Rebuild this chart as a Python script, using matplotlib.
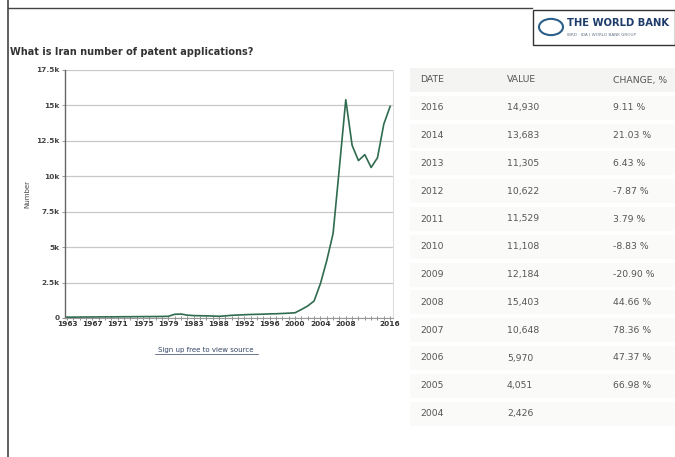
import matplotlib
matplotlib.use("Agg")
import matplotlib.pyplot as plt
from matplotlib.patches import Rectangle, Circle
from matplotlib.lines import Line2D

# ---------------- data ----------------
years = [1963, 1964, 1965, 1966, 1967, 1968, 1969, 1970, 1971, 1972, 1973, 1974,
         1975, 1976, 1977, 1978, 1979, 1980, 1981, 1982, 1983, 1985, 1986, 1987,
         1988, 1989, 1990, 1991, 1992, 1993, 1994, 1995, 1996, 1997, 1998, 1999,
         2000, 2001, 2002, 2003, 2004, 2005, 2006, 2007, 2008, 2009, 2010, 2011,
         2012, 2013, 2014, 2016]
values = [60, 60, 65, 70, 70, 75, 80, 80, 85, 90, 90, 95,
          100, 100, 105, 110, 120, 260, 280, 200, 170, 160, 150, 140,
          120, 150, 190, 210, 230, 250, 260, 270, 290, 300, 320, 340,
          370, 600, 850, 1200, 2426, 4051, 5970, 10648, 15403, 12184, 11108, 11529,
          10622, 11305, 13683, 14930]
xtick_years = [1963, 1967, 1971, 1975, 1979, 1983, 1988, 1992, 1996, 2000, 2004, 2008, 2016]
ytick_vals = [0, 2500, 5000, 7500, 10000, 12500, 15000, 17500]
ytick_labels = ["0", "2.5k", "5k", "7.5k", "10k", "12.5k", "15k", "17.5k"]

table_dates = ["2016", "2014", "2013", "2012", "2011", "2010", "2009", "2008", "2007", "2006", "2005", "2004"]
table_values = ["14,930", "13,683", "11,305", "10,622", "11,529", "11,108", "12,184", "15,403",
                "10,648", "5,970", "4,051", "2,426"]
table_changes = ["9.11 %", "21.03 %", "6.43 %", "-7.87 %", "3.79 %", "-8.83 %", "-20.90 %",
                 "44.66 %", "78.36 %", "47.37 %", "66.98 %", ""]
table_headers = ["DATE", "VALUE", "CHANGE, %"]

title = "What is Iran number of patent applications?"

# ---------------- figure ----------------
W, H = 675, 457
fig = plt.figure(figsize=(W / 100, H / 100), dpi=100)
fig.patch.set_facecolor("white")

def fx(px):
    return px / W

def fy(py):
    return 1 - py / H

# frame lines
fig.add_artist(Line2D([fx(8), fx(8)], [0, fy(0)], color="#444444", lw=1.2))
fig.add_artist(Line2D([fx(8), fx(532)], [fy(8), fy(8)], color="#444444", lw=1.0))

# World Bank logo box
fig.add_artist(Rectangle((fx(533), fy(45)), fx(675) - fx(533), fy(10) - fy(45),
                         facecolor="white", edgecolor="#333333", lw=1.0))
fig.add_artist(Circle((fx(551), fy(27)), 12 / W, transform=fig.transFigure,
                      facecolor="white", edgecolor="#2b5f8a", lw=1.5))
fig.text(fx(567), fy(23), "THE WORLD BANK", fontsize=7.2, fontweight="bold",
         color="#1f3d6b", va="center", ha="left")
fig.text(fx(567), fy(35), "IBRD · IDA | WORLD BANK GROUP", fontsize=3, color="#667788",
         va="center", ha="left")

# title
fig.text(fx(10), fy(52), title, fontsize=7, fontweight="bold", color="#333333",
         va="center", ha="left")

# ---------------- chart ----------------
ax = fig.add_axes([fx(65), fy(318), fx(393) - fx(65), fy(70) - fy(318)])
xs = list(range(len(years)))
ax.plot(xs, values, color="#2f6b4f", lw=1.2)
ax.set_ylim(0, 17500)
ax.set_xlim(-0.3, len(years) - 1 + 0.45)
ax.set_yticks(ytick_vals)
ax.set_yticklabels(ytick_labels)
ax.yaxis.grid(True, color="#c8c8c8", lw=0.9)
ax.set_axisbelow(True)
ax.set_xticks([years.index(y) for y in xtick_years])
ax.set_xticklabels([str(y) for y in xtick_years])
ax.set_xticks(xs, minor=True)
ax.tick_params(axis="x", which="both", direction="inout", length=3, width=0.6,
               color="#777777", labelsize=5.3, pad=1, labelcolor="#333333")
ax.tick_params(axis="y", length=2, width=0.6, color="#888888", labelsize=5.3, pad=2,
               labelcolor="#444444")
for lab in ax.get_xticklabels() + ax.get_yticklabels():
    lab.set_fontweight("bold")
ax.spines["left"].set_color("#666666")
ax.spines["left"].set_linewidth(1.0)
ax.spines["bottom"].set_color("#999999")
ax.spines["bottom"].set_linewidth(0.8)
ax.spines["top"].set_visible(False)
ax.spines["right"].set_color("#dddddd")
ax.spines["right"].set_linewidth(0.8)
ax.set_ylabel("Number", fontsize=5, color="#444444", labelpad=4)

# source link
fig.text(fx(206), fy(350), "Sign up free to view source", fontsize=5, color="#334466",
         ha="center", va="center")
fig.add_artist(Line2D([fx(155), fx(258)], [fy(354), fy(354)], color="#334466", lw=0.5))

# ---------------- table ----------------
col_x = [420, 507, 613]
row0_y = 80
step = 27.8
# header background
fig.add_artist(Rectangle((fx(410), fy(row0_y + 12)), fx(675) - fx(410), 24 / H,
                         facecolor="#f4f4f2", edgecolor="none"))
for j, h in enumerate(table_headers):
    fig.text(fx(col_x[j]), fy(row0_y), h, fontsize=6.7, color="#555555",
             ha="left", va="center")
for i in range(len(table_dates)):
    y = row0_y + step * (i + 1)
    fig.add_artist(Rectangle((fx(410), fy(y + 12)), fx(675) - fx(410), 24 / H,
                             facecolor="#fafaf9", edgecolor="none"))
    fig.text(fx(col_x[0]), fy(y), table_dates[i], fontsize=6.7, color="#555555",
             ha="left", va="center")
    fig.text(fx(col_x[1]), fy(y), table_values[i], fontsize=6.7, color="#555555",
             ha="left", va="center")
    fig.text(fx(col_x[2]), fy(y), table_changes[i], fontsize=6.7, color="#555555",
             ha="left", va="center")

fig.savefig("out.png", dpi=100, facecolor="white")
